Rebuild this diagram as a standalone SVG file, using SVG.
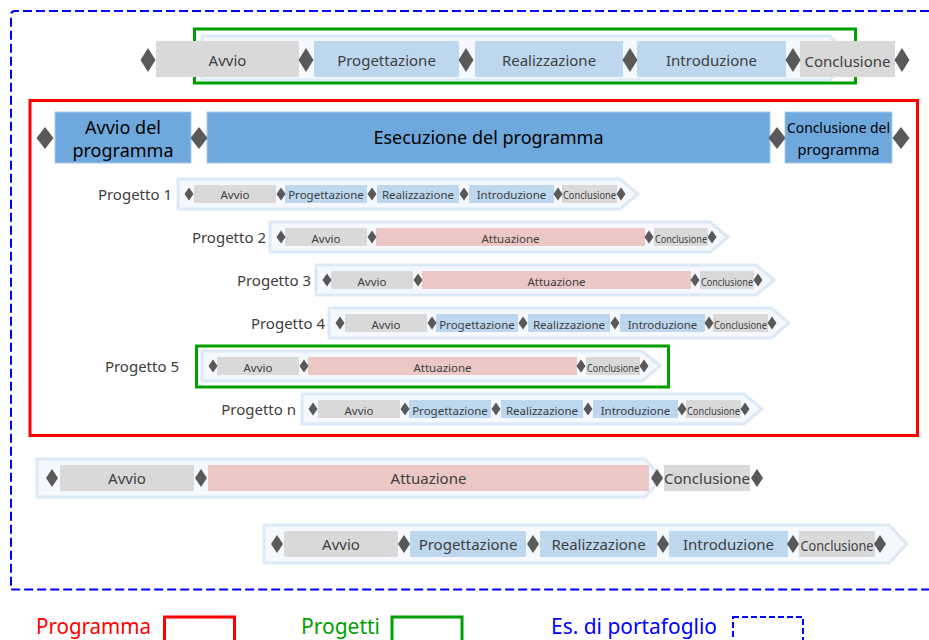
<svg xmlns="http://www.w3.org/2000/svg" width="929" height="640" viewBox="0 0 929 640">
<style>
text{font-family:"Noto Sans","Open Sans",sans-serif;}
.gray{fill:#D9D9D9;}
.lb{fill:#BDD7EE;}
.pk{fill:#EBC7C5;}
.pb{fill:#6FA8DC;stroke:#A9CBEB;stroke-width:1;}
.pale{fill:#F5F9FD;stroke:#DCE9F6;stroke-width:3;stroke-linejoin:round;}
.dm{fill:#595959;}
.t11{font-size:11.5px;fill:#404040;text-anchor:middle;}
.t15{font-size:15px;fill:#404040;text-anchor:middle;}
.lbl{font-size:15px;fill:#404040;text-anchor:end;}
.tp{font-size:18px;fill:#000;text-anchor:middle;}
.tpc{font-size:15px;fill:#000;text-anchor:middle;}
.lg{font-size:21px;}
</style>
<defs>
<path id="dB" class="dm" d="M0,-12L7.5,0L0,12L-7.5,0Z"/>
<path id="dP" class="dm" d="M0,-11L8.5,0L0,11L-8.5,0Z"/>
<path id="dM" class="dm" d="M0,-9L6,0L0,9L-6,0Z"/>
<path id="dS" class="dm" d="M0,-6.5L4.5,0L0,6.5L-4.5,0Z"/>
</defs>
<rect width="929" height="640" fill="#FFFFFF"/>

<g id="portfolio">
<path d="M929,11H15Q11,11 11,15V589.5H929" fill="none" stroke="#0000FF" stroke-width="2" stroke-dasharray="9,4"/>
</g>

<g id="portfolio-project-top">
<polygon class="pale" points="202,36 830,36 850,58 830,80 202,80"/>
<rect x="194.5" y="29" width="661" height="54" fill="none" stroke="#00A000" stroke-width="3"/>
<rect class="gray" x="156" y="41" width="143" height="36"/>
<rect class="lb" x="314" y="41" width="145" height="36"/>
<rect class="lb" x="475" y="41" width="148" height="36"/>
<rect class="lb" x="637" y="41" width="149" height="36"/>
<rect class="gray" x="800" y="41" width="95" height="36"/>
<use href="#dB" x="148" y="60"/><use href="#dB" x="306" y="60"/><use href="#dB" x="466" y="60"/><use href="#dB" x="630" y="60"/><use href="#dB" x="793" y="60"/><use href="#dB" x="902" y="60"/>
<text class="t15" x="227.5" y="65.5">Avvio</text>
<text class="t15" x="386.5" y="65.5">Progettazione</text>
<text class="t15" x="549" y="65.5">Realizzazione</text>
<text class="t15" x="711.5" y="65.5">Introduzione</text>
<text class="t15" x="847.5" y="66.5">Conclusione</text>
</g>

<g id="programma">
<rect x="30" y="100.5" width="887.5" height="335" fill="none" stroke="#FF0000" stroke-width="3"/>
<rect class="pb" x="55" y="112" width="136" height="51"/>
<rect class="pb" x="207" y="112" width="563" height="51"/>
<rect class="pb" x="785" y="112" width="107" height="51"/>
<use href="#dP" x="45" y="138"/><use href="#dP" x="199" y="138"/><use href="#dP" x="777" y="138"/><use href="#dP" x="901" y="138"/>
<text class="tp" x="123" y="134">Avvio del</text>
<text class="tp" x="123" y="157">programma</text>
<text class="tp" x="488.5" y="144">Esecuzione del programma</text>
<text class="tpc" x="838.5" y="133" textLength="103" lengthAdjust="spacingAndGlyphs">Conclusione del</text>
<text class="tpc" x="838.5" y="155" textLength="82" lengthAdjust="spacingAndGlyphs">programma</text>
</g>

<g id="progetto-1" transform="translate(189,194)">
<text class="lbl" x="-17" y="6">Progetto 1</text>
<polygon class="pale" points="-11,-15 431,-15 449,0 431,15 -11,15"/>
<rect class="gray" x="5" y="-9" width="82" height="18"/><rect class="lb" x="96" y="-9" width="82" height="18"/><rect class="lb" x="188" y="-9" width="82" height="18"/><rect class="lb" x="280" y="-9" width="85" height="18"/><rect class="gray" x="373" y="-9" width="55" height="18"/>
<use href="#dS" x="0"/><use href="#dS" x="92"/><use href="#dS" x="183"/><use href="#dS" x="275"/><use href="#dS" x="369"/><use href="#dS" x="432"/>
<text class="t11" x="46" y="5">Avvio</text><text class="t11" x="137" y="5">Progettazione</text><text class="t11" x="229" y="5">Realizzazione</text><text class="t11" x="322.5" y="5">Introduzione</text><text class="t11" x="400.5" y="5" textLength="53" lengthAdjust="spacingAndGlyphs">Conclusione</text>
</g>

<g id="progetto-2" transform="translate(281,237)">
<text class="lbl" x="-15" y="6">Progetto 2</text>
<polygon class="pale" points="-11,-15 429,-15 447,0 429,15 -11,15"/>
<rect class="gray" x="4" y="-9" width="82" height="18"/><rect class="pk" x="95" y="-9" width="269" height="18"/><rect class="gray" x="373" y="-9" width="54" height="18"/>
<use href="#dS" x="0"/><use href="#dS" x="91"/><use href="#dS" x="368"/><use href="#dS" x="431"/>
<text class="t11" x="45" y="6">Avvio</text><text class="t11" x="229.5" y="6">Attuazione</text><text class="t11" x="400" y="6" textLength="52" lengthAdjust="spacingAndGlyphs">Conclusione</text>
</g>

<g id="progetto-3" transform="translate(327,280)">
<text class="lbl" x="-16" y="6">Progetto 3</text>
<polygon class="pale" points="-11,-15 429,-15 447,0 429,15 -11,15"/>
<rect class="gray" x="4" y="-9" width="82" height="18"/><rect class="pk" x="95" y="-9" width="269" height="18"/><rect class="gray" x="373" y="-9" width="54" height="18"/>
<use href="#dS" x="0"/><use href="#dS" x="91"/><use href="#dS" x="368"/><use href="#dS" x="431"/>
<text class="t11" x="45" y="6">Avvio</text><text class="t11" x="229.5" y="6">Attuazione</text><text class="t11" x="400" y="6" textLength="52" lengthAdjust="spacingAndGlyphs">Conclusione</text>
</g>

<g id="progetto-4" transform="translate(340,323)">
<text class="lbl" x="-15" y="6">Progetto 4</text>
<polygon class="pale" points="-11,-15 431,-15 449,0 431,15 -11,15"/>
<rect class="gray" x="5" y="-9" width="82" height="18"/><rect class="lb" x="96" y="-9" width="82" height="18"/><rect class="lb" x="188" y="-9" width="82" height="18"/><rect class="lb" x="280" y="-9" width="85" height="18"/><rect class="gray" x="373" y="-9" width="55" height="18"/>
<use href="#dS" x="0"/><use href="#dS" x="92"/><use href="#dS" x="183"/><use href="#dS" x="275"/><use href="#dS" x="369"/><use href="#dS" x="432"/>
<text class="t11" x="46" y="6">Avvio</text><text class="t11" x="137" y="6">Progettazione</text><text class="t11" x="229" y="6">Realizzazione</text><text class="t11" x="322.5" y="6">Introduzione</text><text class="t11" x="400.5" y="6" textLength="53" lengthAdjust="spacingAndGlyphs">Conclusione</text>
</g>

<g id="progetto-5" transform="translate(213,366)">
<text class="lbl" x="-34" y="6">Progetto 5</text>
<polygon class="pale" points="-11,-15 429,-15 447,0 429,15 -11,15"/>
<rect x="-16.5" y="-20" width="472" height="41" fill="none" stroke="#00A000" stroke-width="3"/>
<rect class="gray" x="4" y="-9" width="82" height="18"/><rect class="pk" x="95" y="-9" width="269" height="18"/><rect class="gray" x="373" y="-9" width="54" height="18"/>
<use href="#dS" x="0"/><use href="#dS" x="91"/><use href="#dS" x="368"/><use href="#dS" x="431"/>
<text class="t11" x="45" y="6">Avvio</text><text class="t11" x="229.5" y="6">Attuazione</text><text class="t11" x="400" y="6" textLength="52" lengthAdjust="spacingAndGlyphs">Conclusione</text>
</g>

<g id="progetto-n" transform="translate(313,409)">
<text class="lbl" x="-17" y="6">Progetto n</text>
<polygon class="pale" points="-11,-15 431,-15 449,0 431,15 -11,15"/>
<rect class="gray" x="5" y="-9" width="82" height="18"/><rect class="lb" x="96" y="-9" width="82" height="18"/><rect class="lb" x="188" y="-9" width="82" height="18"/><rect class="lb" x="280" y="-9" width="85" height="18"/><rect class="gray" x="373" y="-9" width="55" height="18"/>
<use href="#dS" x="0"/><use href="#dS" x="92"/><use href="#dS" x="183"/><use href="#dS" x="275"/><use href="#dS" x="369"/><use href="#dS" x="432"/>
<text class="t11" x="46" y="6">Avvio</text><text class="t11" x="137" y="6">Progettazione</text><text class="t11" x="229" y="6">Realizzazione</text><text class="t11" x="322.5" y="6">Introduzione</text><text class="t11" x="400.5" y="6" textLength="53" lengthAdjust="spacingAndGlyphs">Conclusione</text>
</g>

<g id="portfolio-project-a">
<polygon class="pale" points="37,459 645,459 662,478 645,497 37,497"/>
<rect class="gray" x="60" y="465" width="134" height="26"/>
<rect class="pk" x="208" y="465" width="441" height="26"/>
<rect class="gray" x="664" y="465" width="86" height="26"/>
<use href="#dM" x="52" y="478"/><use href="#dM" x="201" y="478"/><use href="#dM" x="657" y="478"/><use href="#dM" x="757" y="478"/>
<text class="t15" x="127" y="483.5">Avvio</text>
<text class="t15" x="428.5" y="483.5">Attuazione</text>
<text class="t15" x="707" y="484">Conclusione</text>
</g>

<g id="portfolio-project-b">
<polygon class="pale" points="264,525 889,525 907,544 889,563 264,563"/>
<rect class="gray" x="284" y="531" width="114" height="26"/>
<rect class="lb" x="410" y="531" width="116" height="26"/>
<rect class="lb" x="540" y="531" width="117" height="26"/>
<rect class="lb" x="669" y="531" width="119" height="26"/>
<rect class="gray" x="799" y="531" width="76" height="26"/>
<use href="#dM" x="277" y="544"/><use href="#dM" x="404" y="544"/><use href="#dM" x="533" y="544"/><use href="#dM" x="663" y="544"/><use href="#dM" x="793" y="544"/><use href="#dM" x="880" y="544"/>
<text class="t15" x="341" y="549.5">Avvio</text>
<text class="t15" x="468" y="549.5">Progettazione</text>
<text class="t15" x="598.5" y="549.5">Realizzazione</text>
<text class="t15" x="728.5" y="549.5">Introduzione</text>
<text class="t15" x="837" y="550.5" textLength="73" lengthAdjust="spacingAndGlyphs">Conclusione</text>
</g>

<g id="connectors"></g>

<g id="legend">
<text class="lg" x="36" y="634" fill="#FF0000" textLength="115" lengthAdjust="spacingAndGlyphs">Programma</text>
<rect x="164.5" y="617" width="70" height="30" fill="none" stroke="#FF0000" stroke-width="3"/>
<text class="lg" x="301" y="634" fill="#00A000" textLength="79" lengthAdjust="spacingAndGlyphs">Progetti</text>
<rect x="392" y="617" width="70" height="30" fill="none" stroke="#00A000" stroke-width="3"/>
<text class="lg" x="551" y="634" fill="#0000FF" textLength="166" lengthAdjust="spacingAndGlyphs">Es. di portafoglio</text>
<rect x="733" y="617" width="70" height="30" fill="none" stroke="#0000FF" stroke-width="2" stroke-dasharray="6,3"/>
</g>
</svg>
